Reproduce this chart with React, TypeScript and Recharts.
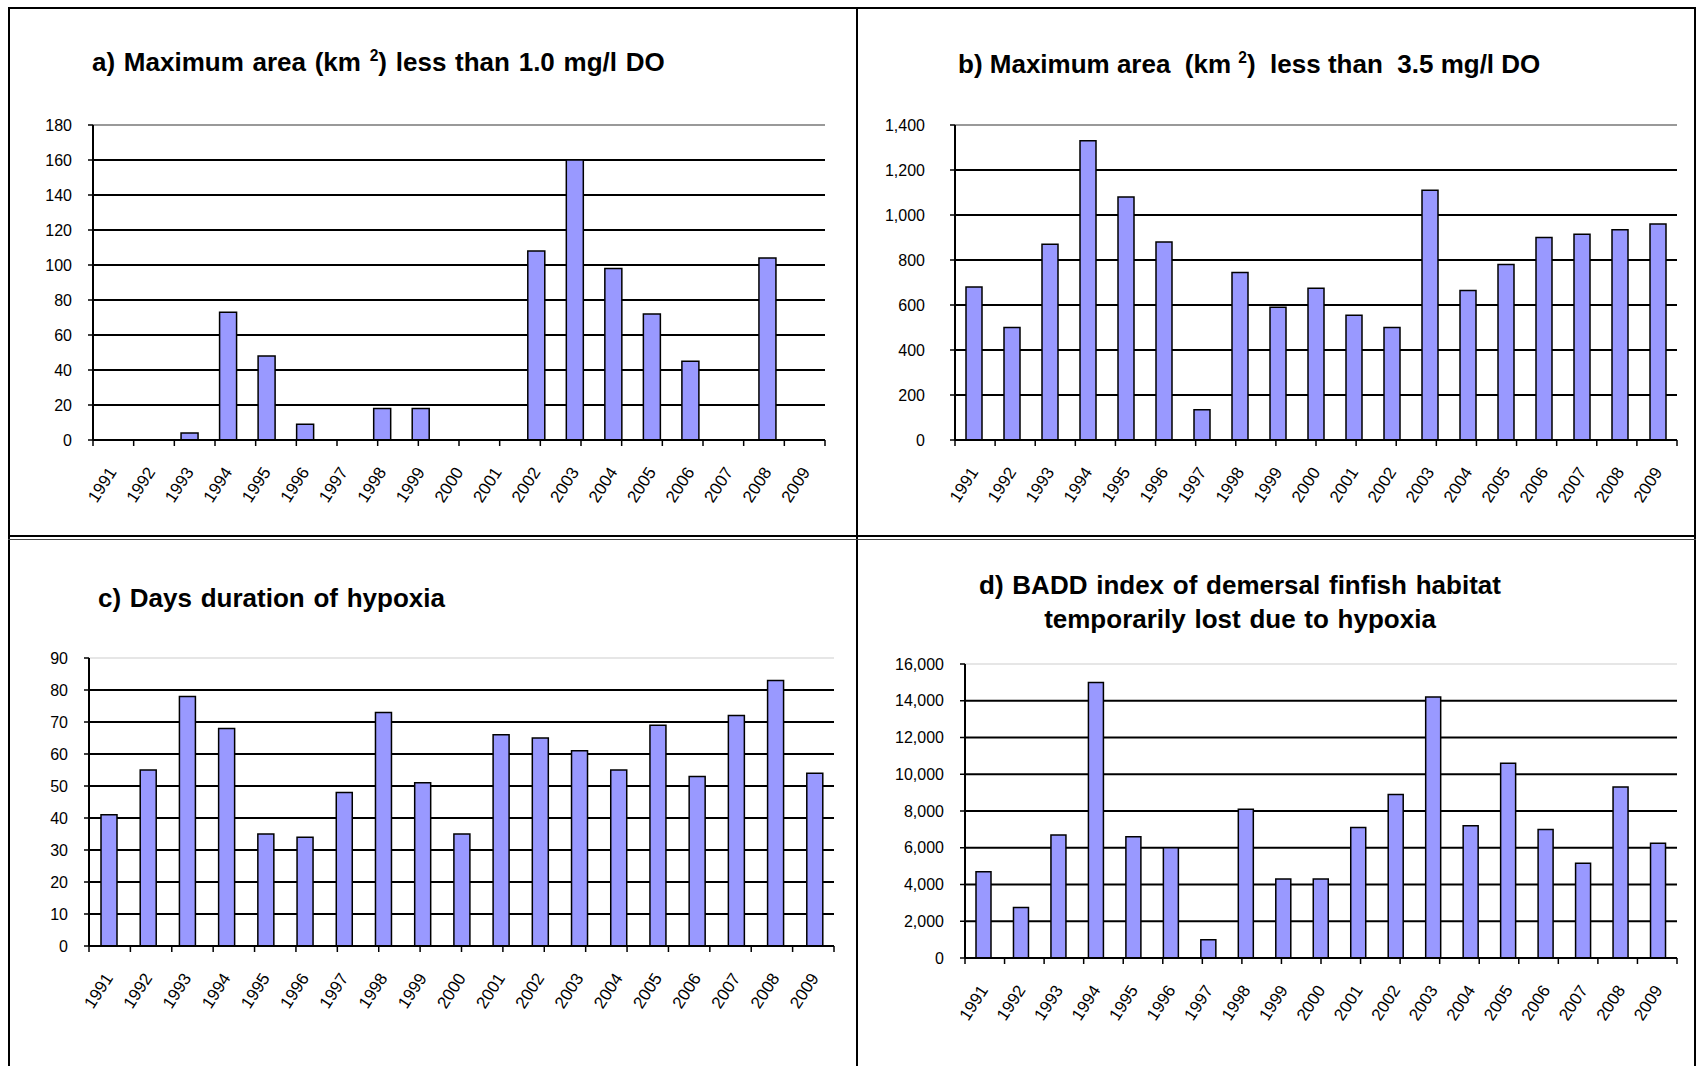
import React from "react";
import { BarChart, Bar, XAxis, YAxis, CartesianGrid, ReferenceLine } from "recharts";

// --- data ---
const years = [
  "1991", "1992", "1993", "1994", "1995", "1996", "1997", "1998", "1999", "2000",
  "2001", "2002", "2003", "2004", "2005", "2006", "2007", "2008", "2009",
];

// a) max area (km2) < 1.0 mg/l DO
const areaBelow1 = [0, 0, 4, 73, 48, 9, 0, 18, 18, 0, 0, 108, 160, 98, 72, 45, 0, 104, 0];
// b) max area (km2) < 3.5 mg/l DO
const areaBelow35 = [680, 500, 870, 1330, 1080, 880, 135, 745, 590, 675, 555, 500, 1110, 665, 780, 900, 915, 935, 960];
// c) days duration of hypoxia
const hypoxiaDays = [41, 55, 78, 68, 35, 34, 48, 73, 51, 35, 66, 65, 61, 55, 69, 53, 72, 83, 54];
// d) BADD index
const baddIndex = [4700, 2750, 6700, 15000, 6600, 6000, 1000, 8100, 4300, 4300, 7100, 8900, 14200, 7200, 10600, 7000, 5150, 9300, 6250];

const ticksA = [0, 20, 40, 60, 80, 100, 120, 140, 160, 180];
const ticksB = [0, 200, 400, 600, 800, 1000, 1200, 1400];
const ticksC = [0, 10, 20, 30, 40, 50, 60, 70, 80, 90];
const ticksD = [0, 2000, 4000, 6000, 8000, 10000, 12000, 14000, 16000];

const FONT = "'Liberation Sans', Arial, sans-serif";
const BAR_FILL = "#9999FF";

function YearTick(props: any) {
  const { x, y, payload } = props;
  return (
    <text
      transform={`translate(${x + 5},${y + 23}) rotate(-57)`}
      textAnchor="end"
      fontSize={17}
      fontFamily={FONT}
      fill="#000"
    >
      {payload.value}
    </text>
  );
}

type PlotBox = { l: number; r: number; t: number; b: number };

function Panel({
  values, yTicks, plot, barSize, topColor, rightBorder, labelGap = 16,
}: {
  values: number[]; yTicks: number[]; plot: PlotBox; barSize: number;
  topColor: string; rightBorder: boolean; labelGap?: number;
}) {
  const yw = 80;
  const xh = 90;
  const data = years.map((year, i) => ({ year, value: values[i] }));
  // category boundaries, used for the tick marks between the bars
  const edges = years.map((_, i) => i).concat(years.length);
  const max = yTicks[yTicks.length - 1];
  const width = plot.r - plot.l + yw + 10;
  const height = plot.b - plot.t + 10 + xh;

  return (
    <div style={{ position: "absolute", left: plot.l - yw, top: plot.t - 10 }}>
      <BarChart
        width={width}
        height={height}
        data={data}
        margin={{ top: 10, right: 10, left: 0, bottom: 0 }}
        barSize={barSize}
      >
        <CartesianGrid xAxisId="cat" vertical={false} stroke="#000" strokeWidth={2} />
        {/* numeric axis: only the axis line and the boundary tick marks */}
        <XAxis
          type="number"
          domain={[0, years.length]}
          ticks={edges}
          interval={0}
          allowDataOverflow
          height={1}
          tickSize={6}
          tickFormatter={() => ""}
          axisLine={{ stroke: "#000", strokeWidth: 2 }}
          tickLine={{ stroke: "#000", strokeWidth: 1.5 }}
        />
        <XAxis
          xAxisId="cat"
          dataKey="year"
          interval={0}
          height={xh - 1}
          axisLine={false}
          tickLine={false}
          tick={<YearTick />}
        />
        <YAxis
          width={yw}
          domain={[0, max]}
          ticks={yTicks}
          interval={0}
          tickSize={5}
          tickMargin={labelGap}
          axisLine={{ stroke: "#000", strokeWidth: 2 }}
          tickLine={{ stroke: "#000", strokeWidth: 1.5 }}
          tick={{ fill: "#000", fontSize: 16, fontFamily: FONT }}
          tickFormatter={(v: number) => v.toLocaleString("en-US")}
        />
        <ReferenceLine xAxisId="cat" y={max} stroke={topColor} strokeWidth={2} />
        {rightBorder && <ReferenceLine x={years.length} stroke="#999" strokeWidth={2} />}
        <Bar xAxisId="cat" dataKey="value" fill={BAR_FILL} stroke="#000" strokeWidth={1.5} isAnimationActive={false} />
      </BarChart>
    </div>
  );
}

const titleStyle: React.CSSProperties = {
  position: "absolute",
  fontFamily: FONT,
  fontWeight: "bold",
  fontSize: 26,
  lineHeight: "30px",
  wordSpacing: 1.5,
  whiteSpace: "pre",
  color: "#000",
};

const sup: React.CSSProperties = { fontSize: "0.6em", verticalAlign: "super", lineHeight: 0 };

export default function App() {
  return (
    <div
      style={{
        position: "absolute", left: 0, top: 0, width: 1696, height: 1066,
        background: "#fff", overflow: "hidden",
      }}
    >
      {/* frame */}
      <div style={{ position: "absolute", left: 8, top: 7, width: 1684, height: 1070, border: "2px solid #000" }} />
      <div style={{ position: "absolute", left: 856, top: 7, width: 2, height: 1066, background: "#000" }} />
      <div style={{ position: "absolute", left: 8, top: 535, width: 1688, height: 2, background: "#000" }} />
      <div style={{ position: "absolute", left: 8, top: 539, width: 1688, height: 1, background: "#444" }} />

      <div style={{ ...titleStyle, left: 92, top: 47 }}>
        a) Maximum area (km <span style={sup}>2</span>) less than 1.0 mg/l DO
      </div>
      <div style={{ ...titleStyle, left: 958, top: 49, wordSpacing: 0 }}>
        {"b) Maximum area  (km "}<span style={sup}>2</span>{")  less than  3.5 mg/l DO"}
      </div>
      <div style={{ ...titleStyle, left: 98, top: 583 }}>c) Days duration of hypoxia</div>
      <div style={{ ...titleStyle, left: 940, top: 568, width: 600, textAlign: "center", lineHeight: "34px", whiteSpace: "normal" }}>
        d) BADD index of demersal finfish habitat
        <br />
        temporarily lost due to hypoxia
      </div>

      <Panel values={areaBelow1} yTicks={ticksA} plot={{ l: 93, r: 825, t: 125, b: 440 }} barSize={17} topColor="#999" rightBorder />
      <Panel values={areaBelow35} yTicks={ticksB} plot={{ l: 955, r: 1677, t: 125, b: 440 }} barSize={16} topColor="#999" rightBorder labelGap={25} />
      <Panel values={hypoxiaDays} yTicks={ticksC} plot={{ l: 89, r: 834, t: 658, b: 946 }} barSize={16} topColor="#e6e6e6" rightBorder={false} />
      <Panel values={baddIndex} yTicks={ticksD} plot={{ l: 965, r: 1677, t: 664, b: 958 }} barSize={15} topColor="#e6e6e6" rightBorder={false} />
    </div>
  );
}
